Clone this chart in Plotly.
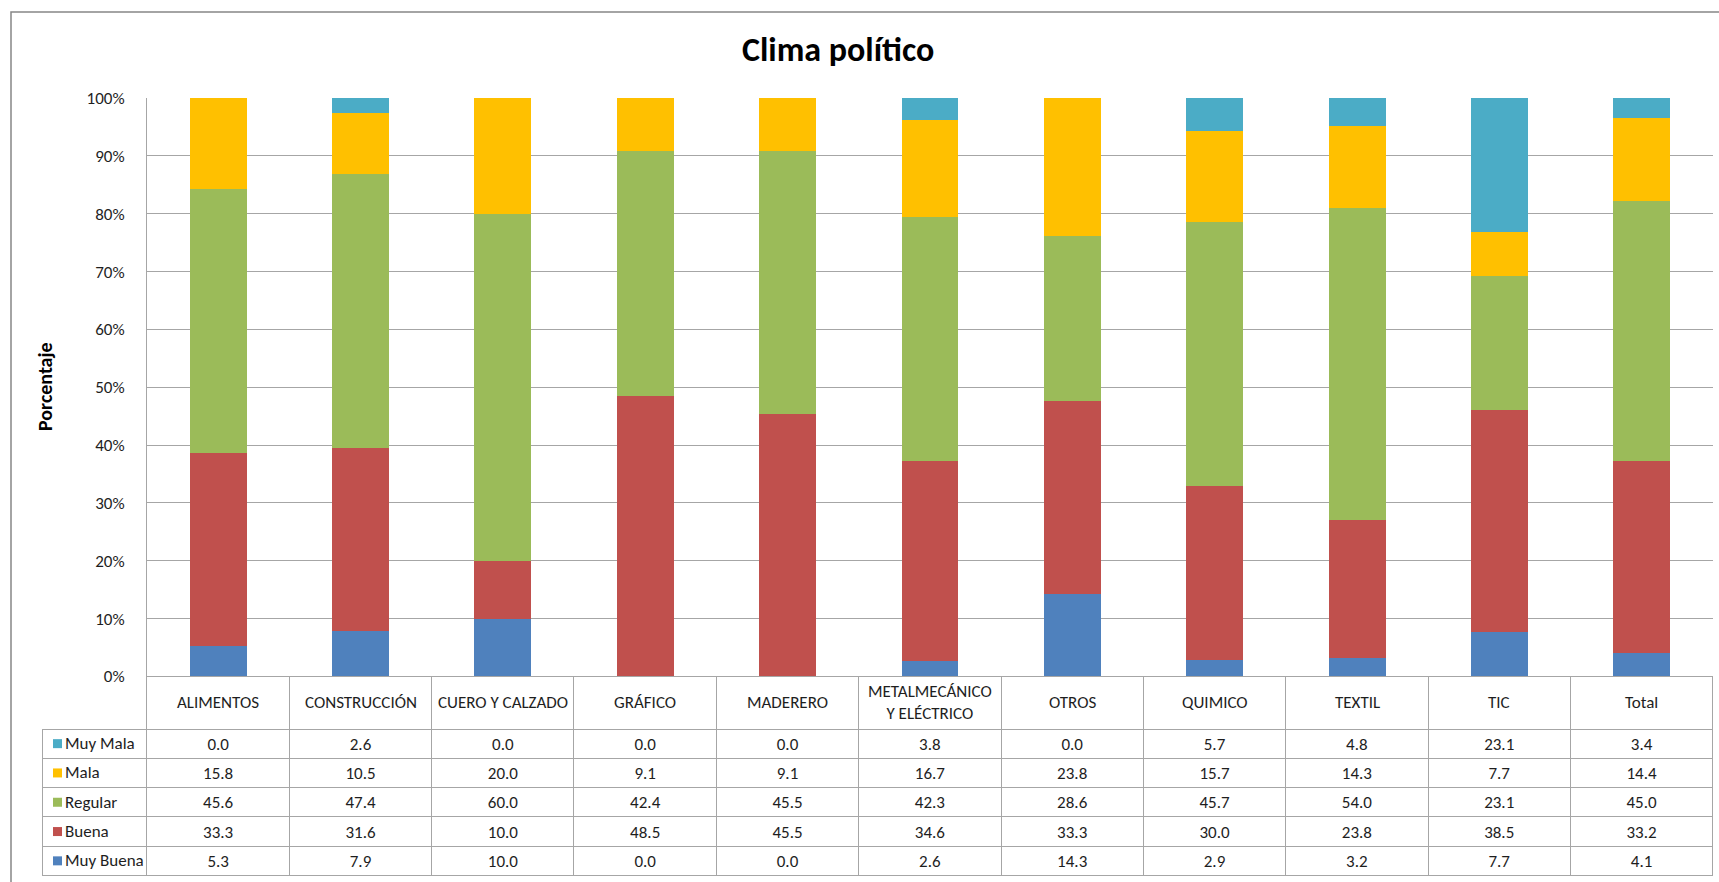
import plotly.graph_objects as go

W, H = 1719, 882

categories = ["ALIMENTOS", "CONSTRUCCIÓN", "CUERO Y CALZADO", "GRÁFICO", "MADERERO",
              "METALMECÁNICO Y ELÉCTRICO", "OTROS", "QUIMICO", "TEXTIL", "TIC", "Total"]
header_labels = ["ALIMENTOS", "CONSTRUCCIÓN", "CUERO Y CALZADO", "GRÁFICO", "MADERERO",
                 "METALMECÁNICO<br>Y ELÉCTRICO", "OTROS", "QUIMICO", "TEXTIL", "TIC", "Total"]

muy_mala = [0.0, 2.6, 0.0, 0.0, 0.0, 3.8, 0.0, 5.7, 4.8, 23.1, 3.4]
mala = [15.8, 10.5, 20.0, 9.1, 9.1, 16.7, 23.8, 15.7, 14.3, 7.7, 14.4]
regular = [45.6, 47.4, 60.0, 42.4, 45.5, 42.3, 28.6, 45.7, 54.0, 23.1, 45.0]
buena = [33.3, 31.6, 10.0, 48.5, 45.5, 34.6, 33.3, 30.0, 23.8, 38.5, 33.2]
muy_buena = [5.3, 7.9, 10.0, 0.0, 0.0, 2.6, 14.3, 2.9, 3.2, 7.7, 4.1]

series_names = ["Muy Buena", "Buena", "Regular", "Mala", "Muy Mala"]
series_vals = [muy_buena, buena, regular, mala, muy_mala]
colors = {"Muy Buena": "#4F81BD", "Buena": "#C0504D", "Regular": "#9BBB59",
          "Mala": "#FFC000", "Muy Mala": "#4BACC6"}

y_ticks = list(range(0, 101, 10))
y_ticktext = [f"{v}%" for v in y_ticks]

FONT = "Carlito, Lato, sans-serif"
TXT = "#1e1e1e"
GRID = "#A6A6A6"


def px_x(p):
    return p / W


def px_y(p):
    return 1 - p / H


plot_left, plot_right, plot_top, plot_bottom = 147, 1713, 98, 676.5
table_left, table_bottom = 42.7, 876
header_h = 52.5
row_h = 29.3

fig = go.Figure()
for name, vals in zip(series_names, series_vals):
    fig.add_trace(go.Bar(x=categories, y=vals, name=name,
                         marker=dict(color=colors[name], line=dict(width=0)),
                         showlegend=False, hoverinfo="skip"))

# data table
table_rows = ["Muy Mala", "Mala", "Regular", "Buena", "Muy Buena"]
row_map = dict(zip(series_names, series_vals))
cols = [[""] * len(table_rows)]
for i in range(len(categories)):
    cols.append([f"{row_map[r][i]:.1f}" for r in table_rows])

col_w = (plot_right - plot_left) / len(categories)
fig.add_trace(go.Table(
    domain=dict(x=[px_x(table_left), px_x(plot_right)],
                y=[px_y(table_bottom + 1), px_y(plot_bottom)]),
    columnwidth=[plot_left - table_left] + [col_w] * len(categories),
    header=dict(values=[""] * (len(categories) + 1), height=header_h,
                fill=dict(color=["rgba(0,0,0,0)"] + ["rgba(255,255,255,0)"] * len(categories)),
                line=dict(color=["rgba(0,0,0,0)"] + [GRID] * len(categories), width=1)),
    cells=dict(values=cols, height=row_h,
               align=["left"] + ["center"] * len(categories),
               font=dict(family=FONT, size=17, color=TXT),
               fill=dict(color="rgba(255,255,255,0)"),
               line=dict(color=GRID, width=1)),
))

annotations = []
shapes = []
for c, lab in zip(categories, header_labels):
    annotations.append(dict(x=c, xref="x", y=px_y(plot_bottom + header_h / 2), yref="paper",
                            text=lab, showarrow=False, xanchor="center", yanchor="middle",
                            font=dict(family=FONT, size=17, color=TXT)))
# legend keys + labels in first table column
for k, r in enumerate(table_rows):
    yc = plot_bottom + header_h + row_h * (k + 0.5)
    shapes.append(dict(type="rect", xref="paper", yref="paper",
                       x0=px_x(53), x1=px_x(62), y0=px_y(yc + 4.5), y1=px_y(yc - 4.5),
                       fillcolor=colors[r], line=dict(width=0)))
    annotations.append(dict(x=px_x(63), y=px_y(yc), xref="paper", yref="paper", text=r,
                            showarrow=False, xanchor="left", yanchor="middle",
                            font=dict(family=FONT, size=17, color=TXT)))

annotations.append(dict(x=px_x(45), y=px_y(387), xref="paper", yref="paper",
                        text="<b>Porcentaje</b>", textangle=-90, showarrow=False,
                        xanchor="center", yanchor="middle",
                        font=dict(family=FONT, size=20, color="#000")))
annotations.append(dict(x=px_x(838), y=px_y(49), xref="paper", yref="paper",
                        text="<b>Clima político</b>", showarrow=False,
                        xanchor="center", yanchor="middle",
                        font=dict(family=FONT, size=34, color="#000")))

shapes.append(dict(type="rect", xref="paper", yref="paper",
                   x0=px_x(11), x1=1.01, y0=-0.02, y1=px_y(12),
                   line=dict(color="#868686", width=1.5), fillcolor="rgba(0,0,0,0)"))

fig.update_layout(
    width=W, height=H,
    margin=dict(l=0, r=0, t=0, b=0, autoexpand=False),
    paper_bgcolor="white", plot_bgcolor="white",
    barmode="stack", barnorm="percent", bargap=0.6,
    font=dict(family=FONT, size=16, color=TXT),
    xaxis=dict(domain=[px_x(plot_left), px_x(plot_right)], range=[-0.5, len(categories) - 0.5],
               showticklabels=False, showgrid=False, zeroline=False, showline=False, ticks="",
               automargin=False),
    yaxis=dict(domain=[px_y(plot_bottom), px_y(plot_top)], range=[0, 100],
               tickmode="array", tickvals=y_ticks, ticktext=y_ticktext,
               showgrid=True, gridcolor=GRID, gridwidth=1,
               zeroline=False, showline=True, linecolor=GRID, linewidth=1,
               ticks="", ticklabelstandoff=18, automargin=False,
               tickfont=dict(family=FONT, size=17, color=TXT)),
    annotations=annotations,
    shapes=shapes,
)

fig.write_html("out.html", config={"displayModeBar": False},
               post_script="document.body.style.margin='0px';document.body.style.overflow='hidden';")
